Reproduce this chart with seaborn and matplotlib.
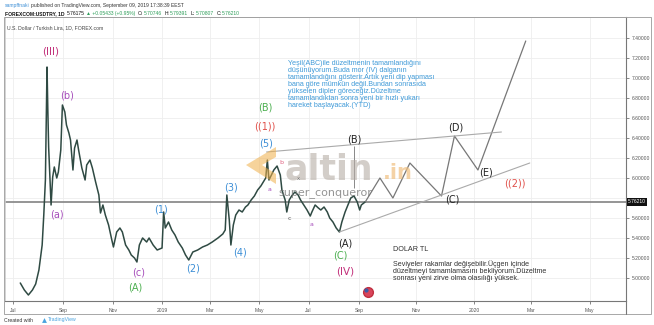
import matplotlib
matplotlib.use("Agg")
import matplotlib.pyplot as plt
import numpy as np
import pandas as pd
import seaborn as sns
from matplotlib.patches import Polygon, Rectangle

# ---------------- data ----------------
price_dates = [
    "2018-07-10", "2018-07-15", "2018-07-20", "2018-07-25", "2018-07-29", "2018-08-02",
    "2018-08-06", "2018-08-08", "2018-08-10", "2018-08-12", "2018-08-13", "2018-08-14",
    "2018-08-17", "2018-08-19", "2018-08-21", "2018-08-24", "2018-08-26", "2018-08-29",
    "2018-08-31", "2018-09-03", "2018-09-05", "2018-09-08", "2018-09-10", "2018-09-13",
    "2018-09-15", "2018-09-18", "2018-09-20", "2018-09-24", "2018-09-28", "2018-09-30",
    "2018-10-04", "2018-10-07", "2018-10-11", "2018-10-15", "2018-10-17", "2018-10-20",
    "2018-10-23", "2018-10-27", "2018-10-31", "2018-11-02", "2018-11-06", "2018-11-10",
    "2018-11-13", "2018-11-17", "2018-11-21", "2018-11-24", "2018-11-28", "2018-12-01",
    "2018-12-04", "2018-12-08", "2018-12-13", "2018-12-16", "2018-12-21", "2018-12-26",
    "2019-01-01", "2019-01-03", "2019-01-05", "2019-01-09", "2019-01-13", "2019-01-17",
    "2019-01-21", "2019-01-26", "2019-01-30", "2019-02-03", "2019-02-08", "2019-02-14",
    "2019-02-20", "2019-02-26", "2019-03-04", "2019-03-11", "2019-03-17", "2019-03-20",
    "2019-03-22", "2019-03-25", "2019-03-27", "2019-03-30", "2019-04-02", "2019-04-06",
    "2019-04-10", "2019-04-14", "2019-04-17", "2019-04-21", "2019-04-25", "2019-04-29",
    "2019-05-03", "2019-05-06", "2019-05-09", "2019-05-11", "2019-05-13", "2019-05-16",
    "2019-05-19", "2019-05-23", "2019-05-27", "2019-05-29", "2019-06-02", "2019-06-04",
    "2019-06-07", "2019-06-10", "2019-06-14", "2019-06-18", "2019-06-21", "2019-06-25",
    "2019-06-29", "2019-07-03", "2019-07-05", "2019-07-09", "2019-07-13", "2019-07-16",
    "2019-07-20", "2019-07-24", "2019-07-27", "2019-07-31", "2019-08-04", "2019-08-08",
    "2019-08-11", "2019-08-15", "2019-08-19", "2019-08-22", "2019-08-26", "2019-08-30",
    "2019-09-02", "2019-09-04", "2019-09-09",
]
price_close = [
    4.95, 4.88, 4.83, 4.88, 4.94, 5.08,
    5.33, 5.63, 5.98, 7.11, 6.68, 6.31,
    5.73, 6.01, 6.11, 6.00, 6.06, 6.28,
    6.73, 6.66, 6.53, 6.45, 6.38, 6.08,
    6.30, 6.38, 6.28, 6.10, 5.98, 6.13,
    6.18, 6.10, 5.96, 5.83, 5.65, 5.73,
    5.63, 5.53, 5.38, 5.31, 5.46, 5.50,
    5.46, 5.33, 5.28, 5.23, 5.20, 5.16,
    5.33, 5.40, 5.36, 5.40, 5.33, 5.28,
    5.30, 5.66, 5.50, 5.56, 5.48, 5.43,
    5.36, 5.30, 5.23, 5.18, 5.26, 5.28,
    5.31, 5.33, 5.36, 5.40, 5.44, 5.48,
    5.83, 5.58, 5.33, 5.53, 5.63, 5.68,
    5.66, 5.71, 5.73, 5.78, 5.82, 5.88,
    5.92, 5.96, 6.00, 6.18, 5.98, 6.03,
    6.08, 6.12, 6.03, 5.88, 5.78, 5.66,
    5.78, 5.82, 5.86, 5.83, 5.78, 5.73,
    5.68, 5.62, 5.66, 5.73, 5.70, 5.68,
    5.71, 5.66, 5.60, 5.56, 5.50, 5.46,
    5.56, 5.66, 5.74, 5.80, 5.82, 5.76,
    5.68, 5.73, 5.7621,
]
proj_dates = ["2019-09-09", "2019-09-27", "2019-10-13", "2019-11-03",
              "2019-12-12", "2019-12-28", "2020-01-26", "2020-03-25"]
proj_values = [5.7621, 6.00, 5.80, 6.15, 5.82, 6.42, 6.08, 7.37]
upper_dates = ["2019-05-10", "2020-02-24"]
upper_values = [6.26, 6.46]
lower_dates = ["2019-08-08", "2020-03-30"]
lower_values = [5.46, 6.15]
b_line_date = "2019-08-26"
b_line_values = [6.32, 5.90]
last_price = 5.7621
price_ticks = [5.0, 5.2, 5.4, 5.6, 6.0, 6.2, 6.4, 6.6, 6.8, 7.0, 7.2, 7.4]
grid_prices = [5.0, 5.2, 5.4, 5.6, 5.8, 6.0, 6.2, 6.4, 6.6, 6.8, 7.0, 7.2, 7.4]
time_tick_dates = ["2018-07-01", "2018-09-01", "2018-11-01", "2019-01-01", "2019-03-01",
                   "2019-05-01", "2019-07-01", "2019-09-01", "2019-11-11", "2020-01-21",
                   "2020-03-31", "2020-06-12"]
time_tick_labels = ["Jul", "Sep", "Nov", "2019", "Mar", "May", "Jul", "Sep", "Nov",
                    "2020", "Mar", "May"]

ROMAN = "#c2307a"
PURPLE = "#a64dbb"
GREEN = "#4caf50"
BLUE = "#3d8fd6"
RED = "#e0504a"
BLACK = "#222222"
wave_labels = [
    ("(III)", "2018-08-16", 7.27, ROMAN, 7.5),
    ("(a)", "2018-08-24", 5.64, PURPLE, 7),
    ("(b)", "2018-09-06", 6.82, PURPLE, 7),
    ("(c)", "2018-12-03", 5.06, PURPLE, 7),
    ("(A)", "2018-11-29", 4.91, GREEN, 7),
    ("(1)", "2018-12-31", 5.69, BLUE, 7),
    ("(2)", "2019-02-08", 5.10, BLUE, 7),
    ("(3)", "2019-03-27", 5.90, BLUE, 7),
    ("(4)", "2019-04-07", 5.26, BLUE, 7),
    ("(5)", "2019-05-09", 6.34, BLUE, 7),
    ("((1))", "2019-05-08", 6.52, RED, 7),
    ("(B)", "2019-05-08", 6.70, GREEN, 7),
    ("a", "2019-05-14", 5.89, PURPLE, 4.5),
    ("b", "2019-05-28", 6.15, "#e06080", 4.5),
    ("c", "2019-06-07", 5.59, "#555555", 4.5),
    ("x", "2019-06-18", 6.00, "#555555", 4.0),
    ("a", "2019-07-05", 5.53, PURPLE, 4.5),
    ("(B)", "2019-08-26", 6.39, BLACK, 7),
    ("(A)", "2019-08-15", 5.35, BLACK, 7),
    ("(C)", "2019-08-09", 5.23, GREEN, 7),
    ("(IV)", "2019-08-15", 5.07, ROMAN, 7.5),
    ("(C)", "2019-12-25", 5.78, BLACK, 7),
    ("(D)", "2019-12-29", 6.51, BLACK, 7),
    ("(E)", "2020-02-05", 6.06, BLACK, 7),
    ("((2))", "2020-03-11", 5.95, RED, 7),
]

header_user = "sampffnaki"
header_pub = "published on TradingView.com, September 09, 2019 17:38:39 EEST"
header_symbol = "FOREXCOM:USDTRY, 1D"
header_last = "5.76175"
header_change = "▲ +0.05433 (+0.95%)"
header_ohlc = [("O:", "5.70746"), ("H:", "5.79391"), ("L:", "5.70807"), ("C:", "5.76210")]

blue_note = ("Yeşil(ABC)ile düzeltmenin tamamlandığını\n"
             "düşünüyorum.Buda mor (IV) dalganın\n"
             "tamamlandığını gösterir.Artık yeni dip yapması\n"
             "bana göre mümkün değil.Bundan sonrasıda\n"
             "yükselen dipler göreceğiz.Düzeltme\n"
             "tamamlandıktan sonra yeni bir hızlı yukarı\n"
             "hareket başlayacak.(YTD)")
dolar_title = "DOLAR TL"
dolar_note = ("Seviyeler rakamlar değişebilir.Üçgen içinde\n"
              "düzeltmeyi tamamlamasını bekliyorum.Düzeltme\n"
              "sonrası yeni zirve olma olasılığı yüksek.")

# ---------------- figure ----------------
sns.set_theme(style="white")
plt.rcParams['font.family'] = ['Liberation Sans', 'DejaVu Sans']

W, H = 654, 325
fig = plt.figure(figsize=(W / 100, H / 100), dpi=100)
fig.patch.set_facecolor("white")
renderer = fig.canvas.get_renderer()

left_px, right_px, top_px, bot_px = 5, 626, 17, 301
ax = fig.add_axes([left_px / W, 1 - bot_px / H, (right_px - left_px) / W, (bot_px - top_px) / H])

base = pd.Timestamp("2018-07-01")
px_per_day = 0.81
x_left = base + pd.Timedelta(days=(left_px - 13) / px_per_day)
x_right = base + pd.Timedelta(days=(right_px - 13) / px_per_day)
ax.set_xlim(x_left, x_right)
ax.set_ylim(7.4 - (bot_px - 38) / 100, 7.4 + (38 - top_px) / 100)

# grid
for gp in grid_prices:
    ax.axhline(gp, color="#eeeeee", lw=0.6, zorder=0)
for td in time_tick_dates:
    ax.axvline(pd.Timestamp(td), color="#eeeeee", lw=0.6, zorder=0)

# price line
df = pd.DataFrame({"date": pd.to_datetime(price_dates), "close": price_close})
sns.lineplot(data=df, x="date", y="close", ax=ax, color="#2f4a43", lw=1.1, zorder=3)

# current price line
ax.axhline(last_price, color="#8c8c8c", lw=1.3, zorder=2)

# projection & triangle
dp = pd.DataFrame({"date": pd.to_datetime(proj_dates), "v": proj_values})
sns.lineplot(data=dp, x="date", y="v", ax=ax, color="#777777", lw=0.9, zorder=3)
du = pd.DataFrame({"date": pd.to_datetime(upper_dates), "v": upper_values})
sns.lineplot(data=du, x="date", y="v", ax=ax, color="#aaaaaa", lw=0.8, zorder=3)
dl = pd.DataFrame({"date": pd.to_datetime(lower_dates), "v": lower_values})
sns.lineplot(data=dl, x="date", y="v", ax=ax, color="#aaaaaa", lw=0.8, zorder=3)
ax.vlines(pd.Timestamp(b_line_date), b_line_values[1], b_line_values[0],
          color="#888888", lw=0.7, zorder=3)

# wave labels
for txt, d, p, c, fs in wave_labels:
    ax.text(pd.Timestamp(d), p, txt, color=c, fontsize=fs, ha="center", va="center",
            family=["DejaVu Sans"], zorder=5)

# axes styling
ax.set_xlabel("")
ax.set_ylabel("")
ax.yaxis.tick_right()
ax.set_yticks(price_ticks)
ax.set_yticklabels([f"{v:.5f}" for v in price_ticks])
ax.set_xticks(pd.to_datetime(time_tick_dates))
ax.set_xticklabels(time_tick_labels)
ax.tick_params(axis="y", labelsize=3.6, colors="#555555", length=2, width=0.5, pad=2, right=True)
ax.tick_params(axis="x", labelsize=3.6, colors="#555555", length=2, width=0.5, pad=3, bottom=True)
for s in ["left", "top"]:
    ax.spines[s].set_color("#cccccc")
    ax.spines[s].set_linewidth(0.6)
for s in ["right", "bottom"]:
    ax.spines[s].set_color("#777777")
    ax.spines[s].set_linewidth(0.8)

# current price tag
ax.text(1.003, last_price, f"{last_price:.5f}", transform=ax.get_yaxis_transform(),
        fontsize=3.6, color="white", va="center", ha="left",
        bbox=dict(boxstyle="square,pad=0.25", fc="#111111", ec="none"), zorder=6, clip_on=False)


def fx(x):
    return x / W


def fy(y):
    return 1 - y / H


def seq_text(x_px, y_px, segments, fs):
    """Place text segments one after another on a line."""
    for s, color, weight, gap in segments:
        t = fig.text(fx(x_px), fy(y_px), s, fontsize=fs, color=color, fontweight=weight,
                     ha="left", va="center", family=["Liberation Sans", "DejaVu Sans"])
        bb = t.get_window_extent(renderer)
        x_px += bb.width + gap


# watermark
logo = Polygon([(fx(276), fy(147)), (fx(246), fy(165)), (fx(276), fy(184)),
                (fx(276), fy(174)), (fx(262), fy(165)), (fx(276), fy(157))],
               closed=True, transform=fig.transFigure, fc="#f0b04a", ec="none", alpha=0.55, zorder=1)
fig.patches.append(logo)
fig.text(fx(285), fy(179), "altin", fontsize=25, fontweight="bold", color="#b7aea6",
         alpha=0.6, family=["DejaVu Sans"], ha="left", va="baseline", zorder=1)
fig.text(fx(383), fy(179), ".in", fontsize=15, fontweight="bold", color="#f0c080",
         alpha=0.7, family=["DejaVu Sans"], ha="left", va="baseline", zorder=1)
fig.text(fx(278), fy(194), "super_conqueror", fontsize=8.0, color="#707070",
         alpha=0.75, family=["DejaVu Sans"], ha="left", va="center", zorder=1)

# notes
fig.text(fx(288), fy(60), blue_note, fontsize=5.1, color="#3f9ad8", ha="left", va="top",
         linespacing=1.0)
fig.text(fx(393), fy(246), dolar_title, fontsize=5.2, color="#333333", ha="left", va="top")
fig.text(fx(393), fy(260), dolar_note, fontsize=5.1, color="#333333", ha="left", va="top",
         linespacing=1.0)

# event flag marker
fig.lines.append(plt.Line2D([fx(368)], [fy(292)], marker="o", ms=7, color="#d9455b",
                            mec="#c03040", transform=fig.transFigure))
fig.lines.append(plt.Line2D([fx(366)], [fy(290)], marker="o", ms=3, color="#3a5ca8",
                            mec="none", transform=fig.transFigure))

# header
seq_text(5, 6, [(header_user, "#3d8fd6", "normal", 1.5),
                (header_pub, "#333333", "normal", 0)], 3.6)
segs = [(header_symbol, "#111111", "bold", 2), (header_last, "#111111", "normal", 1.5),
        (header_change, "#2e9e5a", "normal", 3)]
for lab, val in header_ohlc:
    segs.append((lab, "#111111", "normal", 0.3))
    segs.append((val, "#2e9e5a", "normal", 3))
seq_text(5, 13.5, segs, 3.6)
fig.text(fx(7), fy(28), "U.S. Dollar / Turkish Lira, 1D, FOREX.com", fontsize=3.7,
         color="#444444", ha="left", va="center")

# outer frame
frame = Rectangle((fx(4), fy(314)), (651 - 4) / W, (314 - 17) / H, transform=fig.transFigure,
                  fill=False, ec="#999999", lw=0.6)
fig.patches.append(frame)
fig.lines.append(plt.Line2D([fx(626), fx(626)], [fy(301), fy(314)], color="#777777", lw=0.8,
                            transform=fig.transFigure))

# footer
fig.text(fx(4), fy(320), "Created with", fontsize=3.7, color="#333333", ha="left", va="center")
fig.lines.append(plt.Line2D([fx(44)], [fy(320)], marker="^", ms=3.5, color="#4aa3df",
                            mec="none", transform=fig.transFigure))
fig.text(fx(48), fy(320), "TradingView", fontsize=3.7, color="#4aa3df", ha="left", va="center")

fig.savefig("out.png", dpi=100, facecolor="white")
